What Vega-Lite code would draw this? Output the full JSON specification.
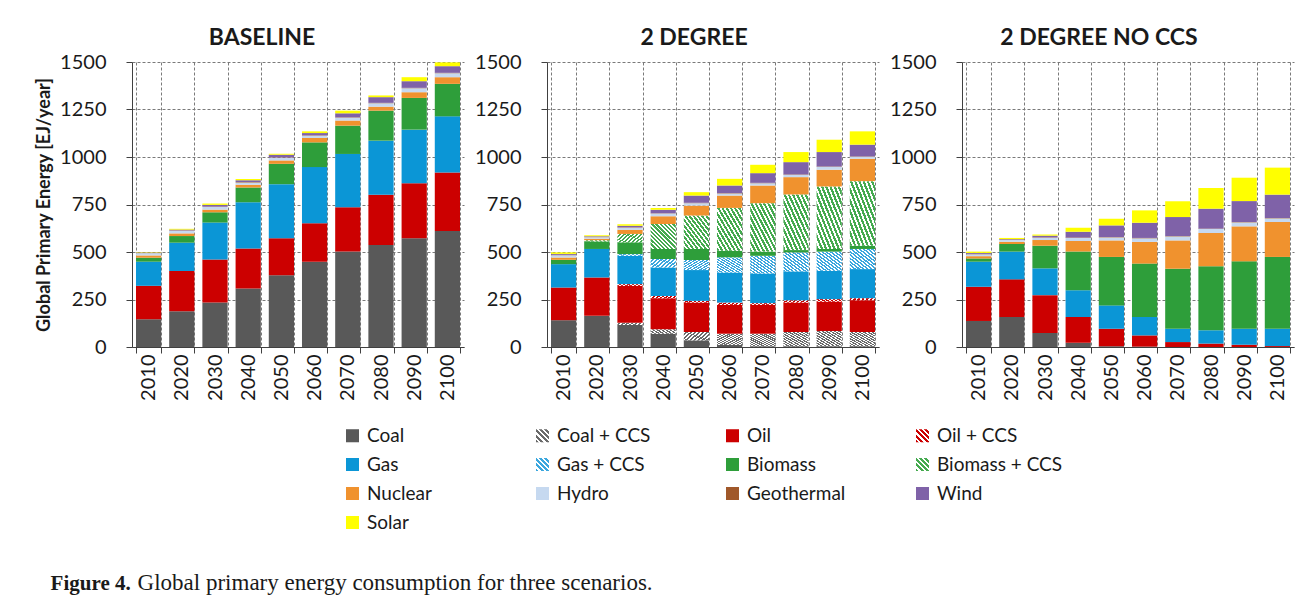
{
  "$schema": "https://vega.github.io/schema/vega-lite/v6.json",
  "background": "white",
  "padding": {"left": 35, "top": 27, "right": 6, "bottom": 10},
  "params": [
    {"name": "hCoal", "value": {"gradient": "linear", "x1": 0, "y1": 1, "x2": 1, "y2": 0, "stops": [
      {"offset": 0, "color": "#6a6a6a"}, {"offset": 0.0458, "color": "#6a6a6a"}, {"offset": 0.0458, "color": "#ffffff"}, {"offset": 0.0833, "color": "#ffffff"},
      {"offset": 0.0833, "color": "#6a6a6a"}, {"offset": 0.1292, "color": "#6a6a6a"}, {"offset": 0.1292, "color": "#ffffff"}, {"offset": 0.1667, "color": "#ffffff"},
      {"offset": 0.1667, "color": "#6a6a6a"}, {"offset": 0.2125, "color": "#6a6a6a"}, {"offset": 0.2125, "color": "#ffffff"}, {"offset": 0.25, "color": "#ffffff"},
      {"offset": 0.25, "color": "#6a6a6a"}, {"offset": 0.2958, "color": "#6a6a6a"}, {"offset": 0.2958, "color": "#ffffff"}, {"offset": 0.3333, "color": "#ffffff"},
      {"offset": 0.3333, "color": "#6a6a6a"}, {"offset": 0.3792, "color": "#6a6a6a"}, {"offset": 0.3792, "color": "#ffffff"}, {"offset": 0.4167, "color": "#ffffff"},
      {"offset": 0.4167, "color": "#6a6a6a"}, {"offset": 0.4625, "color": "#6a6a6a"}, {"offset": 0.4625, "color": "#ffffff"}, {"offset": 0.5, "color": "#ffffff"},
      {"offset": 0.5, "color": "#6a6a6a"}, {"offset": 0.5458, "color": "#6a6a6a"}, {"offset": 0.5458, "color": "#ffffff"}, {"offset": 0.5833, "color": "#ffffff"},
      {"offset": 0.5833, "color": "#6a6a6a"}, {"offset": 0.6292, "color": "#6a6a6a"}, {"offset": 0.6292, "color": "#ffffff"}, {"offset": 0.6667, "color": "#ffffff"},
      {"offset": 0.6667, "color": "#6a6a6a"}, {"offset": 0.7125, "color": "#6a6a6a"}, {"offset": 0.7125, "color": "#ffffff"}, {"offset": 0.75, "color": "#ffffff"},
      {"offset": 0.75, "color": "#6a6a6a"}, {"offset": 0.7958, "color": "#6a6a6a"}, {"offset": 0.7958, "color": "#ffffff"}, {"offset": 0.8333, "color": "#ffffff"},
      {"offset": 0.8333, "color": "#6a6a6a"}, {"offset": 0.8792, "color": "#6a6a6a"}, {"offset": 0.8792, "color": "#ffffff"}, {"offset": 0.9167, "color": "#ffffff"},
      {"offset": 0.9167, "color": "#6a6a6a"}, {"offset": 0.9625, "color": "#6a6a6a"}, {"offset": 0.9625, "color": "#ffffff"}, {"offset": 1, "color": "#ffffff"}]}},
    {"name": "hOil", "value": {"gradient": "linear", "x1": 0, "y1": 1, "x2": 1, "y2": 0, "stops": [
      {"offset": 0, "color": "#cc0000"}, {"offset": 0.0458, "color": "#cc0000"}, {"offset": 0.0458, "color": "#ffffff"}, {"offset": 0.0833, "color": "#ffffff"},
      {"offset": 0.0833, "color": "#cc0000"}, {"offset": 0.1292, "color": "#cc0000"}, {"offset": 0.1292, "color": "#ffffff"}, {"offset": 0.1667, "color": "#ffffff"},
      {"offset": 0.1667, "color": "#cc0000"}, {"offset": 0.2125, "color": "#cc0000"}, {"offset": 0.2125, "color": "#ffffff"}, {"offset": 0.25, "color": "#ffffff"},
      {"offset": 0.25, "color": "#cc0000"}, {"offset": 0.2958, "color": "#cc0000"}, {"offset": 0.2958, "color": "#ffffff"}, {"offset": 0.3333, "color": "#ffffff"},
      {"offset": 0.3333, "color": "#cc0000"}, {"offset": 0.3792, "color": "#cc0000"}, {"offset": 0.3792, "color": "#ffffff"}, {"offset": 0.4167, "color": "#ffffff"},
      {"offset": 0.4167, "color": "#cc0000"}, {"offset": 0.4625, "color": "#cc0000"}, {"offset": 0.4625, "color": "#ffffff"}, {"offset": 0.5, "color": "#ffffff"},
      {"offset": 0.5, "color": "#cc0000"}, {"offset": 0.5458, "color": "#cc0000"}, {"offset": 0.5458, "color": "#ffffff"}, {"offset": 0.5833, "color": "#ffffff"},
      {"offset": 0.5833, "color": "#cc0000"}, {"offset": 0.6292, "color": "#cc0000"}, {"offset": 0.6292, "color": "#ffffff"}, {"offset": 0.6667, "color": "#ffffff"},
      {"offset": 0.6667, "color": "#cc0000"}, {"offset": 0.7125, "color": "#cc0000"}, {"offset": 0.7125, "color": "#ffffff"}, {"offset": 0.75, "color": "#ffffff"},
      {"offset": 0.75, "color": "#cc0000"}, {"offset": 0.7958, "color": "#cc0000"}, {"offset": 0.7958, "color": "#ffffff"}, {"offset": 0.8333, "color": "#ffffff"},
      {"offset": 0.8333, "color": "#cc0000"}, {"offset": 0.8792, "color": "#cc0000"}, {"offset": 0.8792, "color": "#ffffff"}, {"offset": 0.9167, "color": "#ffffff"},
      {"offset": 0.9167, "color": "#cc0000"}, {"offset": 0.9625, "color": "#cc0000"}, {"offset": 0.9625, "color": "#ffffff"}, {"offset": 1, "color": "#ffffff"}]}},
    {"name": "hGas", "value": {"gradient": "linear", "x1": 0, "y1": 1, "x2": 1, "y2": 0, "stops": [
      {"offset": 0, "color": "#3ba7de"}, {"offset": 0.0458, "color": "#3ba7de"}, {"offset": 0.0458, "color": "#ffffff"}, {"offset": 0.0833, "color": "#ffffff"},
      {"offset": 0.0833, "color": "#3ba7de"}, {"offset": 0.1292, "color": "#3ba7de"}, {"offset": 0.1292, "color": "#ffffff"}, {"offset": 0.1667, "color": "#ffffff"},
      {"offset": 0.1667, "color": "#3ba7de"}, {"offset": 0.2125, "color": "#3ba7de"}, {"offset": 0.2125, "color": "#ffffff"}, {"offset": 0.25, "color": "#ffffff"},
      {"offset": 0.25, "color": "#3ba7de"}, {"offset": 0.2958, "color": "#3ba7de"}, {"offset": 0.2958, "color": "#ffffff"}, {"offset": 0.3333, "color": "#ffffff"},
      {"offset": 0.3333, "color": "#3ba7de"}, {"offset": 0.3792, "color": "#3ba7de"}, {"offset": 0.3792, "color": "#ffffff"}, {"offset": 0.4167, "color": "#ffffff"},
      {"offset": 0.4167, "color": "#3ba7de"}, {"offset": 0.4625, "color": "#3ba7de"}, {"offset": 0.4625, "color": "#ffffff"}, {"offset": 0.5, "color": "#ffffff"},
      {"offset": 0.5, "color": "#3ba7de"}, {"offset": 0.5458, "color": "#3ba7de"}, {"offset": 0.5458, "color": "#ffffff"}, {"offset": 0.5833, "color": "#ffffff"},
      {"offset": 0.5833, "color": "#3ba7de"}, {"offset": 0.6292, "color": "#3ba7de"}, {"offset": 0.6292, "color": "#ffffff"}, {"offset": 0.6667, "color": "#ffffff"},
      {"offset": 0.6667, "color": "#3ba7de"}, {"offset": 0.7125, "color": "#3ba7de"}, {"offset": 0.7125, "color": "#ffffff"}, {"offset": 0.75, "color": "#ffffff"},
      {"offset": 0.75, "color": "#3ba7de"}, {"offset": 0.7958, "color": "#3ba7de"}, {"offset": 0.7958, "color": "#ffffff"}, {"offset": 0.8333, "color": "#ffffff"},
      {"offset": 0.8333, "color": "#3ba7de"}, {"offset": 0.8792, "color": "#3ba7de"}, {"offset": 0.8792, "color": "#ffffff"}, {"offset": 0.9167, "color": "#ffffff"},
      {"offset": 0.9167, "color": "#3ba7de"}, {"offset": 0.9625, "color": "#3ba7de"}, {"offset": 0.9625, "color": "#ffffff"}, {"offset": 1, "color": "#ffffff"}]}},
    {"name": "hBio", "value": {"gradient": "linear", "x1": 0, "y1": 1, "x2": 1, "y2": 0, "stops": [
      {"offset": 0, "color": "#45aa4f"}, {"offset": 0.0458, "color": "#45aa4f"}, {"offset": 0.0458, "color": "#ffffff"}, {"offset": 0.0833, "color": "#ffffff"},
      {"offset": 0.0833, "color": "#45aa4f"}, {"offset": 0.1292, "color": "#45aa4f"}, {"offset": 0.1292, "color": "#ffffff"}, {"offset": 0.1667, "color": "#ffffff"},
      {"offset": 0.1667, "color": "#45aa4f"}, {"offset": 0.2125, "color": "#45aa4f"}, {"offset": 0.2125, "color": "#ffffff"}, {"offset": 0.25, "color": "#ffffff"},
      {"offset": 0.25, "color": "#45aa4f"}, {"offset": 0.2958, "color": "#45aa4f"}, {"offset": 0.2958, "color": "#ffffff"}, {"offset": 0.3333, "color": "#ffffff"},
      {"offset": 0.3333, "color": "#45aa4f"}, {"offset": 0.3792, "color": "#45aa4f"}, {"offset": 0.3792, "color": "#ffffff"}, {"offset": 0.4167, "color": "#ffffff"},
      {"offset": 0.4167, "color": "#45aa4f"}, {"offset": 0.4625, "color": "#45aa4f"}, {"offset": 0.4625, "color": "#ffffff"}, {"offset": 0.5, "color": "#ffffff"},
      {"offset": 0.5, "color": "#45aa4f"}, {"offset": 0.5458, "color": "#45aa4f"}, {"offset": 0.5458, "color": "#ffffff"}, {"offset": 0.5833, "color": "#ffffff"},
      {"offset": 0.5833, "color": "#45aa4f"}, {"offset": 0.6292, "color": "#45aa4f"}, {"offset": 0.6292, "color": "#ffffff"}, {"offset": 0.6667, "color": "#ffffff"},
      {"offset": 0.6667, "color": "#45aa4f"}, {"offset": 0.7125, "color": "#45aa4f"}, {"offset": 0.7125, "color": "#ffffff"}, {"offset": 0.75, "color": "#ffffff"},
      {"offset": 0.75, "color": "#45aa4f"}, {"offset": 0.7958, "color": "#45aa4f"}, {"offset": 0.7958, "color": "#ffffff"}, {"offset": 0.8333, "color": "#ffffff"},
      {"offset": 0.8333, "color": "#45aa4f"}, {"offset": 0.8792, "color": "#45aa4f"}, {"offset": 0.8792, "color": "#ffffff"}, {"offset": 0.9167, "color": "#ffffff"},
      {"offset": 0.9167, "color": "#45aa4f"}, {"offset": 0.9625, "color": "#45aa4f"}, {"offset": 0.9625, "color": "#ffffff"}, {"offset": 1, "color": "#ffffff"}]}},
    {"name": "lCoal", "value": {"gradient": "linear", "x1": 0, "y1": 1, "x2": 1, "y2": 0, "stops": [
      {"offset": 0, "color": "#6a6a6a"}, {"offset": 0.11, "color": "#6a6a6a"}, {"offset": 0.11, "color": "#ffffff"}, {"offset": 0.2, "color": "#ffffff"},
      {"offset": 0.2, "color": "#6a6a6a"}, {"offset": 0.31, "color": "#6a6a6a"}, {"offset": 0.31, "color": "#ffffff"}, {"offset": 0.4, "color": "#ffffff"},
      {"offset": 0.4, "color": "#6a6a6a"}, {"offset": 0.51, "color": "#6a6a6a"}, {"offset": 0.51, "color": "#ffffff"}, {"offset": 0.6, "color": "#ffffff"},
      {"offset": 0.6, "color": "#6a6a6a"}, {"offset": 0.71, "color": "#6a6a6a"}, {"offset": 0.71, "color": "#ffffff"}, {"offset": 0.8, "color": "#ffffff"},
      {"offset": 0.8, "color": "#6a6a6a"}, {"offset": 0.91, "color": "#6a6a6a"}, {"offset": 0.91, "color": "#ffffff"}, {"offset": 1, "color": "#ffffff"}]}},
    {"name": "lOil", "value": {"gradient": "linear", "x1": 0, "y1": 1, "x2": 1, "y2": 0, "stops": [
      {"offset": 0, "color": "#cc0000"}, {"offset": 0.11, "color": "#cc0000"}, {"offset": 0.11, "color": "#ffffff"}, {"offset": 0.2, "color": "#ffffff"},
      {"offset": 0.2, "color": "#cc0000"}, {"offset": 0.31, "color": "#cc0000"}, {"offset": 0.31, "color": "#ffffff"}, {"offset": 0.4, "color": "#ffffff"},
      {"offset": 0.4, "color": "#cc0000"}, {"offset": 0.51, "color": "#cc0000"}, {"offset": 0.51, "color": "#ffffff"}, {"offset": 0.6, "color": "#ffffff"},
      {"offset": 0.6, "color": "#cc0000"}, {"offset": 0.71, "color": "#cc0000"}, {"offset": 0.71, "color": "#ffffff"}, {"offset": 0.8, "color": "#ffffff"},
      {"offset": 0.8, "color": "#cc0000"}, {"offset": 0.91, "color": "#cc0000"}, {"offset": 0.91, "color": "#ffffff"}, {"offset": 1, "color": "#ffffff"}]}},
    {"name": "lGas", "value": {"gradient": "linear", "x1": 0, "y1": 1, "x2": 1, "y2": 0, "stops": [
      {"offset": 0, "color": "#3ba7de"}, {"offset": 0.11, "color": "#3ba7de"}, {"offset": 0.11, "color": "#ffffff"}, {"offset": 0.2, "color": "#ffffff"},
      {"offset": 0.2, "color": "#3ba7de"}, {"offset": 0.31, "color": "#3ba7de"}, {"offset": 0.31, "color": "#ffffff"}, {"offset": 0.4, "color": "#ffffff"},
      {"offset": 0.4, "color": "#3ba7de"}, {"offset": 0.51, "color": "#3ba7de"}, {"offset": 0.51, "color": "#ffffff"}, {"offset": 0.6, "color": "#ffffff"},
      {"offset": 0.6, "color": "#3ba7de"}, {"offset": 0.71, "color": "#3ba7de"}, {"offset": 0.71, "color": "#ffffff"}, {"offset": 0.8, "color": "#ffffff"},
      {"offset": 0.8, "color": "#3ba7de"}, {"offset": 0.91, "color": "#3ba7de"}, {"offset": 0.91, "color": "#ffffff"}, {"offset": 1, "color": "#ffffff"}]}},
    {"name": "lBio", "value": {"gradient": "linear", "x1": 0, "y1": 1, "x2": 1, "y2": 0, "stops": [
      {"offset": 0, "color": "#45aa4f"}, {"offset": 0.11, "color": "#45aa4f"}, {"offset": 0.11, "color": "#ffffff"}, {"offset": 0.2, "color": "#ffffff"},
      {"offset": 0.2, "color": "#45aa4f"}, {"offset": 0.31, "color": "#45aa4f"}, {"offset": 0.31, "color": "#ffffff"}, {"offset": 0.4, "color": "#ffffff"},
      {"offset": 0.4, "color": "#45aa4f"}, {"offset": 0.51, "color": "#45aa4f"}, {"offset": 0.51, "color": "#ffffff"}, {"offset": 0.6, "color": "#ffffff"},
      {"offset": 0.6, "color": "#45aa4f"}, {"offset": 0.71, "color": "#45aa4f"}, {"offset": 0.71, "color": "#ffffff"}, {"offset": 0.8, "color": "#ffffff"},
      {"offset": 0.8, "color": "#45aa4f"}, {"offset": 0.91, "color": "#45aa4f"}, {"offset": 0.91, "color": "#ffffff"}, {"offset": 1, "color": "#ffffff"}]}}
  ],
  "datasets": {
    "types": [
      {"k": "Coal", "i": 1}, {"k": "Coal + CCS", "i": 2}, {"k": "Oil", "i": 3}, {"k": "Oil + CCS", "i": 4},
      {"k": "Gas", "i": 5}, {"k": "Gas + CCS", "i": 6}, {"k": "Biomass", "i": 7}, {"k": "Biomass + CCS", "i": 8},
      {"k": "Nuclear", "i": 9}, {"k": "Hydro", "i": 10}, {"k": "Geothermal", "i": 11}, {"k": "Wind", "i": 12}, {"k": "Solar", "i": 13}
    ],
    "energy": [
      {"s": "BASELINE", "year": "2010", "Coal": 146, "Oil": 176, "Gas": 127, "Biomass": 21, "Nuclear": 12, "Hydro": 12, "Geothermal": 2, "Wind": 2, "Solar": 2},
      {"s": "BASELINE", "year": "2020", "Coal": 188, "Oil": 212, "Gas": 149, "Biomass": 35, "Nuclear": 14, "Hydro": 14, "Geothermal": 2, "Wind": 4, "Solar": 4},
      {"s": "BASELINE", "year": "2030", "Coal": 234, "Oil": 227, "Gas": 194, "Biomass": 54, "Nuclear": 14, "Hydro": 14, "Geothermal": 2, "Wind": 9, "Solar": 7},
      {"s": "BASELINE", "year": "2040", "Coal": 308, "Oil": 211, "Gas": 243, "Biomass": 78, "Nuclear": 14, "Hydro": 12, "Geothermal": 2, "Wind": 9, "Solar": 7},
      {"s": "BASELINE", "year": "2050", "Coal": 378, "Oil": 194, "Gas": 285, "Biomass": 107, "Nuclear": 18, "Hydro": 14, "Geothermal": 2, "Wind": 14, "Solar": 5},
      {"s": "BASELINE", "year": "2060", "Coal": 449, "Oil": 202, "Gas": 296, "Biomass": 130, "Nuclear": 23, "Hydro": 12, "Geothermal": 2, "Wind": 12, "Solar": 9},
      {"s": "BASELINE", "year": "2070", "Coal": 502, "Oil": 234, "Gas": 280, "Biomass": 149, "Nuclear": 27, "Hydro": 15, "Geothermal": 2, "Wind": 21, "Solar": 14},
      {"s": "BASELINE", "year": "2080", "Coal": 537, "Oil": 264, "Gas": 285, "Biomass": 158, "Nuclear": 21, "Hydro": 18, "Geothermal": 2, "Wind": 30, "Solar": 9},
      {"s": "BASELINE", "year": "2090", "Coal": 572, "Oil": 290, "Gas": 282, "Biomass": 167, "Nuclear": 30, "Hydro": 21, "Geothermal": 2, "Wind": 35, "Solar": 21},
      {"s": "BASELINE", "year": "2100", "Coal": 611, "Oil": 308, "Gas": 295, "Biomass": 171, "Nuclear": 35, "Hydro": 21, "Geothermal": 2, "Wind": 35, "Solar": 20},
      {"s": "2 DEGREE", "year": "2010", "Coal": 141, "Coal + CCS": 0, "Oil": 172, "Oil + CCS": 0, "Gas": 123, "Gas + CCS": 0, "Biomass": 23, "Biomass + CCS": 0, "Nuclear": 12, "Hydro": 12, "Geothermal": 2, "Wind": 5, "Solar": 8},
      {"s": "2 DEGREE", "year": "2020", "Coal": 164, "Coal + CCS": 0, "Oil": 202, "Oil + CCS": 0, "Gas": 150, "Gas + CCS": 0, "Biomass": 40, "Biomass + CCS": 6, "Nuclear": 8, "Hydro": 8, "Geothermal": 2, "Wind": 3, "Solar": 5},
      {"s": "2 DEGREE", "year": "2030", "Coal": 116, "Coal + CCS": 12, "Oil": 194, "Oil + CCS": 9, "Gas": 149, "Gas + CCS": 9, "Biomass": 62, "Biomass + CCS": 44, "Nuclear": 22, "Hydro": 11, "Geothermal": 2, "Wind": 8, "Solar": 8},
      {"s": "2 DEGREE", "year": "2040", "Coal": 70, "Coal + CCS": 23, "Oil": 164, "Oil + CCS": 12, "Gas": 150, "Gas + CCS": 44, "Biomass": 53, "Biomass + CCS": 132, "Nuclear": 40, "Hydro": 14, "Geothermal": 2, "Wind": 19, "Solar": 9},
      {"s": "2 DEGREE", "year": "2050", "Coal": 35, "Coal + CCS": 44, "Oil": 155, "Oil + CCS": 9, "Gas": 162, "Gas + CCS": 53, "Biomass": 58, "Biomass + CCS": 176, "Nuclear": 52, "Hydro": 13, "Geothermal": 2, "Wind": 38, "Solar": 18},
      {"s": "2 DEGREE", "year": "2060", "Coal": 11, "Coal + CCS": 59, "Oil": 152, "Oil + CCS": 12, "Gas": 158, "Gas + CCS": 80, "Biomass": 35, "Biomass + CCS": 225, "Nuclear": 65, "Hydro": 11, "Geothermal": 2, "Wind": 40, "Solar": 35},
      {"s": "2 DEGREE", "year": "2070", "Coal": 4, "Coal + CCS": 66, "Oil": 152, "Oil + CCS": 9, "Gas": 156, "Gas + CCS": 93, "Biomass": 22, "Biomass + CCS": 255, "Nuclear": 93, "Hydro": 12, "Geothermal": 2, "Wind": 51, "Solar": 44},
      {"s": "2 DEGREE", "year": "2080", "Coal": 4, "Coal + CCS": 75, "Oil": 155, "Oil + CCS": 12, "Gas": 152, "Gas + CCS": 100, "Biomass": 12, "Biomass + CCS": 293, "Nuclear": 91, "Hydro": 12, "Geothermal": 2, "Wind": 65, "Solar": 53},
      {"s": "2 DEGREE", "year": "2090", "Coal": 4, "Coal + CCS": 80, "Oil": 155, "Oil + CCS": 13, "Gas": 149, "Gas + CCS": 101, "Biomass": 14, "Biomass + CCS": 329, "Nuclear": 88, "Hydro": 15, "Geothermal": 2, "Wind": 76, "Solar": 65},
      {"s": "2 DEGREE", "year": "2100", "Coal": 4, "Coal + CCS": 75, "Oil": 167, "Oil + CCS": 11, "Gas": 153, "Gas + CCS": 106, "Biomass": 17, "Biomass + CCS": 340, "Nuclear": 118, "Hydro": 10, "Geothermal": 2, "Wind": 62, "Solar": 70},
      {"s": "2 DEGREE NO CCS", "year": "2010", "Coal": 137, "Oil": 180, "Gas": 132, "Biomass": 17, "Nuclear": 12, "Hydro": 10, "Geothermal": 2, "Wind": 5, "Solar": 7},
      {"s": "2 DEGREE NO CCS", "year": "2020", "Coal": 158, "Oil": 198, "Gas": 146, "Biomass": 40, "Nuclear": 12, "Hydro": 9, "Geothermal": 2, "Wind": 3, "Solar": 6},
      {"s": "2 DEGREE NO CCS", "year": "2030", "Coal": 74, "Oil": 199, "Gas": 141, "Biomass": 119, "Nuclear": 30, "Hydro": 12, "Geothermal": 2, "Wind": 9, "Solar": 6},
      {"s": "2 DEGREE NO CCS", "year": "2040", "Coal": 23, "Oil": 135, "Gas": 141, "Biomass": 203, "Nuclear": 56, "Hydro": 16, "Geothermal": 2, "Wind": 31, "Solar": 21},
      {"s": "2 DEGREE NO CCS", "year": "2050", "Coal": 4, "Oil": 92, "Gas": 123, "Biomass": 255, "Nuclear": 87, "Hydro": 16, "Geothermal": 2, "Wind": 61, "Solar": 35},
      {"s": "2 DEGREE NO CCS", "year": "2060", "Coal": 2, "Oil": 59, "Gas": 97, "Biomass": 281, "Nuclear": 114, "Hydro": 19, "Geothermal": 2, "Wind": 80, "Solar": 65},
      {"s": "2 DEGREE NO CCS", "year": "2070", "Coal": 0, "Oil": 26, "Gas": 70, "Biomass": 316, "Nuclear": 149, "Hydro": 21, "Geothermal": 2, "Wind": 100, "Solar": 83},
      {"s": "2 DEGREE NO CCS", "year": "2080", "Coal": 0, "Oil": 18, "Gas": 70, "Biomass": 337, "Nuclear": 175, "Hydro": 21, "Geothermal": 2, "Wind": 105, "Solar": 109},
      {"s": "2 DEGREE NO CCS", "year": "2090", "Coal": 0, "Oil": 12, "Gas": 84, "Biomass": 355, "Nuclear": 184, "Hydro": 21, "Geothermal": 2, "Wind": 110, "Solar": 123},
      {"s": "2 DEGREE NO CCS", "year": "2100", "Coal": 0, "Oil": 5, "Gas": 91, "Biomass": 378, "Nuclear": 184, "Hydro": 19, "Geothermal": 2, "Wind": 123, "Solar": 142}
    ]
  },
  "data": {"name": "energy"},
  "transform": [
    {"fold": ["Coal", "Coal + CCS", "Oil", "Oil + CCS", "Gas", "Gas + CCS", "Biomass", "Biomass + CCS", "Nuclear", "Hydro", "Geothermal", "Wind", "Solar"], "as": ["k", "v"]},
    {"filter": "isValid(datum.v) && datum.v > 0"},
    {"lookup": "k", "from": {"data": {"name": "types"}, "key": "k", "fields": ["i"]}}
  ],
  "title": {
    "text": "Figure 4.",
    "subtitle": "Global primary energy consumption for three scenarios.",
    "orient": "bottom",
    "anchor": "start",
    "frame": "bounds",
    "font": "Liberation Serif",
    "fontSize": 21,
    "fontWeight": "bold",
    "color": "#1a1a1a",
    "subtitleFont": "Liberation Serif",
    "subtitleFontSize": 23,
    "subtitleColor": "#1a1a1a",
    "subtitlePadding": 0,
    "offset": 40,
    "dx": 15,
    "encode": {"subtitle": {"update": {"dx": {"value": 102}, "dy": {"value": -22}}}}
  },
  "resolve": {"scale": {"color": "shared"}, "legend": {"color": "shared"}},
  "spacing": 83,
  "bounds": "flush",
  "hconcat": [
    {
      "transform": [{"filter": "datum.s === 'BASELINE'"}],
      "title": {"text": "BASELINE", "dx": -36},
      "width": 332, "height": 285,
      "mark": {"type": "bar"},
      "encoding": {
        "x": {"field": "year", "type": "ordinal", "title": null, "scale": {"paddingInner": 0.24, "paddingOuter": 0.12}},
        "y": {"field": "v", "type": "quantitative", "stack": "zero", "scale": {"domain": [0, 1500]}, "axis": {"values": [0, 250, 500, 750, 1000, 1250, 1500], "format": "d", "title": "Global Primary Energy [EJ/year]"}},
        "color": {"field": "k", "type": "nominal",
          "scale": {"domain": ["Coal", "Coal + CCS", "Oil", "Oil + CCS", "Gas", "Gas + CCS", "Biomass", "Biomass + CCS", "Nuclear", "Hydro", "Geothermal", "Wind", "Solar"],
                    "range": ["#595959", {"expr": "lCoal"}, "#cc0000", {"expr": "lOil"}, "#0b96d6", {"expr": "lGas"}, "#2e9e3a", {"expr": "lBio"}, "#f0922e", "#c6d9f0", "#a0582a", "#7f62a8", "#ffff00"]},
          "legend": {"orient": "none", "legendX": 211, "legendY": 364, "direction": "horizontal", "columns": 4, "title": null,
            "symbolType": "square", "symbolSize": 170, "symbolStrokeWidth": 0, "labelFontSize": 19, "labelFont": "Lato", "labelColor": "#1a1a1a",
            "columnPadding": 40, "rowPadding": 9, "gridAlign": "all", "labelLimit": 300, "labelOffset": 5},
          "condition": [
            {"test": "datum.k === 'Coal + CCS'", "value": {"expr": "hCoal"}},
            {"test": "datum.k === 'Oil + CCS'", "value": {"expr": "hOil"}},
            {"test": "datum.k === 'Gas + CCS'", "value": {"expr": "hGas"}},
            {"test": "datum.k === 'Biomass + CCS'", "value": {"expr": "hBio"}}
          ]},
        "order": {"field": "i", "type": "quantitative"}
      }
    },
    {
      "transform": [{"filter": "datum.s === '2 DEGREE'"}],
      "title": {"text": "2 DEGREE", "dx": -19},
      "width": 332, "height": 285,
      "mark": {"type": "bar"},
      "encoding": {
        "x": {"field": "year", "type": "ordinal", "title": null, "scale": {"paddingInner": 0.24, "paddingOuter": 0.12}},
        "y": {"field": "v", "type": "quantitative", "stack": "zero", "scale": {"domain": [0, 1500]}, "axis": {"values": [0, 250, 500, 750, 1000, 1250, 1500], "format": "d", "title": null}},
        "color": {"field": "k", "type": "nominal",
          "condition": [
            {"test": "datum.k === 'Coal + CCS'", "value": {"expr": "hCoal"}},
            {"test": "datum.k === 'Oil + CCS'", "value": {"expr": "hOil"}},
            {"test": "datum.k === 'Gas + CCS'", "value": {"expr": "hGas"}},
            {"test": "datum.k === 'Biomass + CCS'", "value": {"expr": "hBio"}}
          ]},
        "order": {"field": "i", "type": "quantitative"}
      }
    },
    {
      "transform": [{"filter": "datum.s === '2 DEGREE NO CCS'"}],
      "title": {"text": "2 DEGREE NO CCS", "dx": -29},
      "width": 332, "height": 285,
      "mark": {"type": "bar"},
      "encoding": {
        "x": {"field": "year", "type": "ordinal", "title": null, "scale": {"paddingInner": 0.24, "paddingOuter": 0.12}},
        "y": {"field": "v", "type": "quantitative", "stack": "zero", "scale": {"domain": [0, 1500]}, "axis": {"values": [0, 250, 500, 750, 1000, 1250, 1500], "format": "d", "title": null}},
        "color": {"field": "k", "type": "nominal"},
        "order": {"field": "i", "type": "quantitative"}
      }
    }
  ],
  "config": {
    "font": "Lato",
    "view": {"stroke": null},
    "title": {"font": "Lato", "fontSize": 23, "fontWeight": "bold", "color": "#1a1a1a", "offset": 2},
    "axis": {"labelFont": "Lato", "labelFontSize": 20, "labelColor": "#1a1a1a", "titleFont": "Lato", "titleFontSize": 18, "titleFontWeight": "bold", "titleColor": "#1a1a1a",
             "domainColor": "#404040", "tickColor": "#404040", "tickSize": 6, "gridColor": "#7a7a7a", "gridDash": [3, 2], "grid": true},
    "axisY": {"labelPadding": 20, "titlePadding": 6},
    "axisX": {"labelAngle": 270, "tickBand": "extent", "labelPadding": 1}
  }
}
